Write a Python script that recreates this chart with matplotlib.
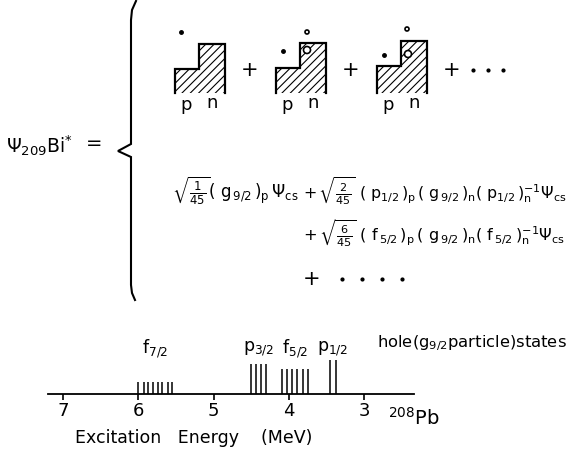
import matplotlib
matplotlib.use('Agg')
import matplotlib.pyplot as plt
from matplotlib.patches import Polygon, Circle
import numpy as np

plt.rcParams['font.family'] = ['DejaVu Sans']
plt.rcParams['mathtext.fontset'] = 'dejavusans'
plt.rcParams['mathtext.default'] = 'regular'
plt.rcParams['hatch.linewidth'] = 0.8

# level energies in 208Pb (MeV)
f72 = [6.00, 5.93, 5.87, 5.81, 5.74, 5.68, 5.61, 5.55]
p32 = [4.50, 4.44, 4.37, 4.31]
f52 = [4.09, 4.02, 3.96, 3.89, 3.82, 3.75]
p12 = [3.45, 3.38]
groups = [f72, p32, f52, p12]
heights = [0.30, 0.75, 0.62, 0.85]
names = [r'$f_{7/2}$', r'$p_{3/2}$', r'$f_{5/2}$', r'$p_{1/2}$']
ticks = [7, 6, 5, 4, 3]

W, H = 569, 453
fig = plt.figure(figsize=(W / 100, H / 100), dpi=100)
ax = fig.add_axes([0, 0, 1, 1])
ax.set_xlim(0, W)
ax.set_ylim(H, 0)
ax.axis('off')

# left side: wave function and brace
ax.text(6, 146, r'$\Psi_{209}Bi^{*}$', fontsize=13.5, va='center', ha='left')
ax.text(86, 144, '=', fontsize=14, va='center', ha='left')
bx = [136, 132, 131, 131, 118, 131, 131, 132, 135]
by = [1, 10, 20, 144, 151, 157, 285, 293, 300]
ax.plot(bx, by, color='black', lw=1.5, solid_joinstyle='miter')

# schematic shell diagrams
blocks = [(175, 44), (276, 43), (377, 41)]
for i, (x0, t) in enumerate(blocks):
    xs = [x0, x0, x0 + 24, x0 + 24, x0 + 50, x0 + 50]
    ys = [93, t + 25, t + 25, t, t, 93]
    ax.add_patch(Polygon(list(zip(xs, ys)), closed=True, facecolor='white',
                         edgecolor='black', lw=0, hatch='////'))
    ax.plot(xs, ys, color='black', lw=1.6, solid_joinstyle='miter')
    ax.text(x0 + 11, 105, 'p', fontsize=13, ha='center', va='center')
    ax.text(x0 + 37, 103, 'n', fontsize=13, ha='center', va='center')

ax.plot([181, 283, 384], [32, 51, 55], 'o', color='black', ms=2.5)
for cx, cy, r in [(307, 50, 3.5), (307, 32, 2), (408, 54, 3.5), (407, 29, 2)]:
    ax.add_patch(Circle((cx, cy), r, facecolor='white', edgecolor='black', lw=1.2))
for px in [250, 351, 452]:
    ax.text(px, 70, '+', fontsize=15, ha='center', va='center')
ax.plot([473, 488, 503], [70, 70, 70], 'o', color='black', ms=2)

# expansion
ax.text(172, 191, r'$\sqrt{\frac{1}{45}}(\ g_{\,9/2}\,)_{p}\,\Psi_{cs}$',
        fontsize=12, va='center', ha='left')
ax.text(303, 191, r'$+\,\sqrt{\frac{2}{45}}\ (\ p_{1/2}\,)_{p}\,(\ g_{\,9/2}\,)_{n}(\ p_{1/2}\,)_{n}^{-1}\Psi_{cs}$',
        fontsize=11.4, va='center', ha='left')
ax.text(303, 233, r'$+\,\sqrt{\frac{6}{45}}\ (\ f_{\,5/2}\,)_{p}\,(\ g_{\,9/2}\,)_{n}(\ f_{\,5/2}\,)_{n}^{-1}\Psi_{cs}$',
        fontsize=11.6, va='center', ha='left')
ax.text(303, 279, '+', fontsize=15, va='center', ha='left')
ax.plot([342, 362, 382, 402], [279, 279, 279, 279], 'o', color='black', ms=2)

ax.text(377, 343, r'hole($g_{9/2}$particle)states', fontsize=11.8, va='center', ha='left')
ax.text(388, 418, r'$^{208}$Pb', fontsize=14, va='center', ha='left')
ax.text(75, 438, 'Excitation   Energy    (MeV)', fontsize=12.5, va='center', ha='left')

# energy axis
el = fig.add_axes([48 / W, 1 - 394 / H, 366 / W, 40 / H], facecolor='none')
for g, h in zip(groups, heights):
    el.vlines(g, 0, h, color='black', lw=1.1)
for g, n in zip(groups, names):
    el.text(np.mean(g), 1.12, n, fontsize=12.5, ha='center', va='center')
el.set_xlim(7.2, 2.34)
el.set_ylim(0, 1)
for s in ['top', 'left', 'right']:
    el.spines[s].set_visible(False)
el.spines['bottom'].set_linewidth(1.3)
el.set_yticks([])
el.set_xticks(ticks)
el.set_xticklabels([str(t) for t in ticks])
el.tick_params(axis='x', direction='out', length=4, width=1.2, labelsize=13, pad=2)

fig.savefig('out.png', dpi=100)
